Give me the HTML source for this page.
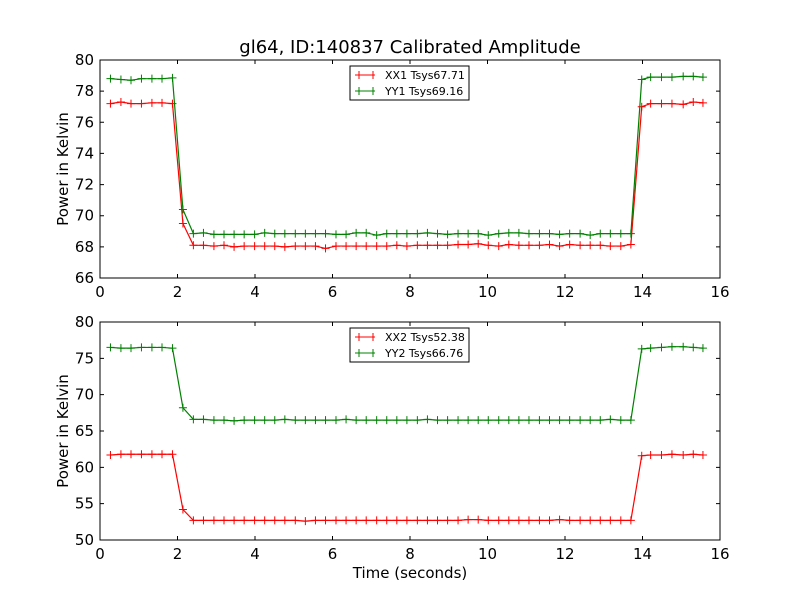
<!DOCTYPE html>
<html><head><meta charset="utf-8"><style>
body{margin:0;background:#fff}
svg text{font-family:"DejaVu Sans","Liberation Sans",sans-serif}
</style></head><body>
<svg id="c" width="800" height="600" xmlns="http://www.w3.org/2000/svg">
<rect width="800" height="600" fill="#fff"/>
<text x="410" y="53" font-size="18" text-anchor="middle">gl64, ID:140837 Calibrated Amplitude</text>
<text x="410" y="578" font-size="15" text-anchor="middle">Time (seconds)</text>
</svg>
<script>
const times = [0.27,0.54,0.80,1.07,1.34,1.60,1.87,2.14,
2.41,2.67,2.94,3.20,3.46,3.72,3.99,4.25,4.51,4.77,5.04,5.30,5.56,5.82,6.09,6.35,6.61,6.87,7.14,7.40,7.66,7.92,8.19,8.45,8.71,8.97,9.24,9.50,9.76,10.02,10.29,10.55,10.81,11.07,11.34,11.60,11.86,12.12,12.39,12.65,12.91,13.17,13.44,13.70,
13.98,14.21,14.49,14.76,15.05,15.31,15.56];
const xx1 = [77.2,77.3,77.2,77.2,77.25,77.25,77.2,69.5,68.1,68.1,68.05,68.1,68.0,68.05,68.05,68.05,68.05,68.0,68.05,68.05,68.05,67.9,68.05,68.05,68.05,68.05,68.05,68.05,68.1,68.05,68.1,68.1,68.1,68.1,68.15,68.15,68.2,68.1,68.05,68.15,68.1,68.1,68.1,68.15,68.05,68.15,68.1,68.1,68.1,68.05,68.05,68.15,77.0,77.2,77.2,77.2,77.15,77.3,77.25];
const yy1 = [78.8,78.75,78.7,78.8,78.8,78.8,78.85,70.4,68.85,68.9,68.8,68.8,68.8,68.8,68.8,68.9,68.85,68.85,68.85,68.85,68.85,68.85,68.8,68.8,68.9,68.9,68.75,68.85,68.85,68.85,68.85,68.9,68.85,68.8,68.85,68.85,68.85,68.75,68.85,68.9,68.9,68.85,68.85,68.85,68.8,68.85,68.85,68.75,68.85,68.85,68.85,68.85,78.75,78.9,78.9,78.9,78.95,78.95,78.9];
const xx2 = [61.7,61.8,61.8,61.8,61.8,61.8,61.8,54.2,52.7,52.7,52.7,52.7,52.7,52.7,52.7,52.7,52.7,52.7,52.7,52.6,52.7,52.7,52.7,52.7,52.7,52.7,52.7,52.7,52.7,52.7,52.7,52.7,52.7,52.7,52.7,52.8,52.8,52.7,52.7,52.7,52.7,52.7,52.7,52.7,52.8,52.7,52.7,52.7,52.7,52.7,52.7,52.7,61.6,61.7,61.7,61.8,61.7,61.8,61.7];
const yy2 = [76.5,76.4,76.4,76.5,76.5,76.5,76.4,68.2,66.6,66.6,66.5,66.5,66.4,66.5,66.5,66.5,66.5,66.6,66.5,66.5,66.5,66.5,66.5,66.6,66.5,66.5,66.5,66.5,66.5,66.5,66.5,66.6,66.5,66.5,66.5,66.5,66.5,66.5,66.5,66.5,66.5,66.5,66.5,66.5,66.5,66.5,66.5,66.5,66.5,66.6,66.5,66.5,76.3,76.4,76.5,76.6,76.6,76.5,76.4];
const xTicks = [0,2,4,6,8,10,12,14,16];
const yTicks1 = [66,68,70,72,74,76,78,80];
const yTicks2 = [50,55,60,65,70,75,80];
const NS="http://www.w3.org/2000/svg", svg=document.getElementById('c');
function mk(tag,a,parent){const e=document.createElementNS(NS,tag);for(const k in a)e.setAttribute(k,a[k]);(parent||svg).appendChild(e);return e;}
function panel(id,top,bottom,ymin,ymax,yTicks,series,names){
  const L=100,R=720;
  const g=mk('g',{});
  
  
  const sx=v=>L+(v-0)/16*(R-L), sy=v=>bottom-(v-ymin)/(ymax-ymin)*(bottom-top);
  series.forEach((s,si)=>{
    const col=si?'#008000':'#ff0000';
    const pts=times.map((t,i)=>sx(t)+','+sy(s[i])).join(' ');
    const pl=mk('polyline',{points:pts,fill:'none',stroke:col,'stroke-width':1.2},g);
    
    
    times.forEach((t,i)=>{const x=sx(t),y=sy(s[i]);
      const m=mk('path',{d:`M${x-4},${y}H${x+4}M${x},${y-4}V${y+4}`,stroke:col,'stroke-width':1},g);
      
      });
  });
  const fr=mk('rect',{x:L,y:top,width:R-L,height:bottom-top,fill:'none',stroke:'#000','stroke-width':1},g);
  
  
  xTicks.forEach(v=>{const x=sx(v);
    mk('path',{d:`M${x},${bottom}v-4M${x},${top}v4`,stroke:'#000'},g);
    const t=mk('text',{x:x,y:bottom+19,'font-size':15,'text-anchor':'middle'},g);t.textContent=v;
    
    });
  yTicks.forEach(v=>{const y=sy(v);
    mk('path',{d:`M${L},${y}h4M${R},${y}h-4`,stroke:'#000'},g);
    const t=mk('text',{x:L-6,y:y+5,'font-size':15,'text-anchor':'end'},g);t.textContent=v;
    
    });
  const yt=mk('text',{x:68,y:(top+bottom)/2,'font-size':15,'text-anchor':'middle',transform:`rotate(-90 68 ${(top+bottom)/2})`},g);
  yt.textContent='Power in Kelvin';
  
  
  const lg=mk('g',{},g);
  
  
  mk('rect',{x:350,y:top+6,width:119,height:34,fill:'#fff',stroke:'#000','stroke-width':1},lg);
  names.forEach((n,i)=>{const col=i?'#008000':'#ff0000',y=top+15+i*16;
    mk('path',{d:`M355,${y}h20M359,${y-4}v8M373,${y-4}v8`,stroke:col,'stroke-width':1},lg);
    const t=mk('text',{x:385,y:y+4,'font-size':11},lg);t.textContent=n;
    
    });
}
panel('top-panel',60,278,66,80,yTicks1,[xx1,yy1],['XX1 Tsys67.71','YY1 Tsys69.16']);
panel('bottom-panel',322,540,50,80,yTicks2,[xx2,yy2],['XX2 Tsys52.38','YY2 Tsys66.76']);
</script>
</body></html>
